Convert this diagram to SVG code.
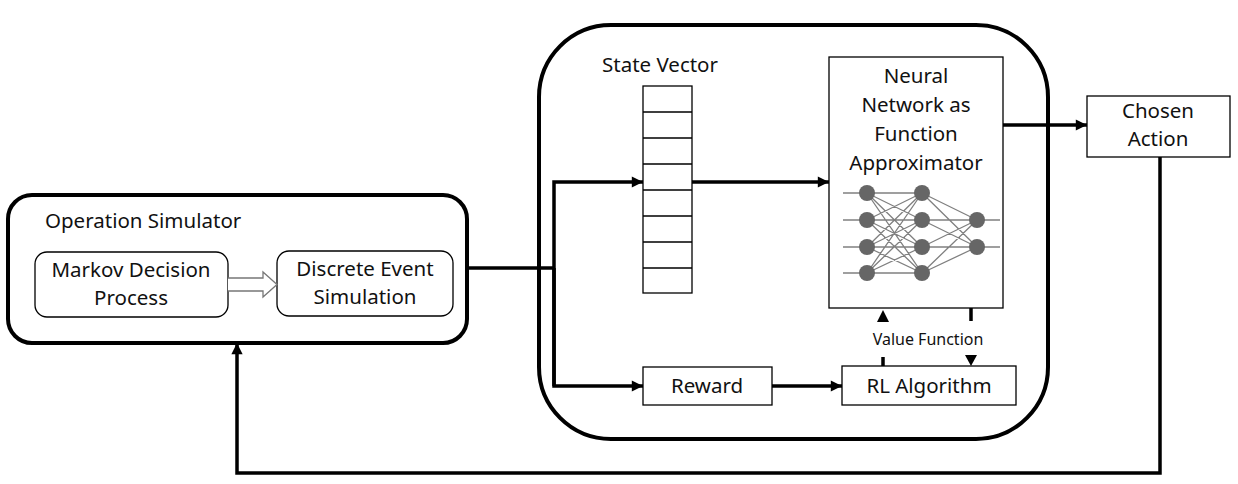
<svg xmlns="http://www.w3.org/2000/svg" width="1238" height="484" viewBox="0 0 1238 484">
<defs>
<marker id="ah" viewBox="0 0 10 10" refX="10" refY="5" markerWidth="4" markerHeight="3.2" markerUnits="strokeWidth" orient="auto"><path d="M0,0 L10,5 L0,10 Z" fill="#000"/></marker>
</defs>
<style>
text{font-family:"Noto Sans","Open Sans",sans-serif;fill:#111;text-anchor:middle;font-size:20.5px}
.big{fill:#fff;stroke:#000;stroke-width:4}
.box{fill:#fff;stroke:#000;stroke-width:1.3}
.conn{fill:none;stroke:#000;stroke-width:3.5}
.nl{stroke:#808080;stroke-width:1.3}
.nd{fill:#666}
</style>
<rect width="1238" height="484" fill="#fff"/>
<g id="rl-agent">
<rect class="big" x="539" y="25" width="509" height="414" rx="72" ry="72"/>
</g>
<g id="operation-simulator">
<rect class="big" x="8" y="195" width="459" height="148" rx="24" ry="24"/>
<text x="45" y="228" style="text-anchor:start;font-size:20.5px">Operation Simulator</text>
</g>
<g id="markov">
<rect class="box" x="35" y="252" width="193" height="65" rx="12" ry="12"/>
<text x="131" y="277">Markov Decision</text>
<text x="131" y="305">Process</text>
</g>
<g id="discrete">
<rect class="box" x="277" y="251" width="176" height="65" rx="12" ry="12"/>
<text x="365" y="276">Discrete Event</text>
<text x="365" y="304">Simulation</text>
</g>
<g id="state-vector">
<text x="660" y="72">State Vector</text>
<rect class="box" x="643" y="86" width="49" height="207"/>
<path class="box" d="M643,112H692M643,138H692M643,164H692M643,190H692M643,216H692M643,242H692M643,268H692"/>
</g>
<g id="neural-network">
<rect class="box" x="829" y="57" width="174" height="251"/>
<text x="916" y="83">Neural</text>
<text x="916" y="112">Network as</text>
<text x="916" y="141">Function</text>
<text x="916" y="170">Approximator</text>
<g>
<path class="nl" d="M843,193H867M843,220H867M843,247H867M843,273H867M977,220H1000M977,247H1000
M867,193L922,193M867,193L922,220M867,193L922,247M867,193L922,273
M867,220L922,193M867,220L922,220M867,220L922,247M867,220L922,273
M867,247L922,193M867,247L922,220M867,247L922,247M867,247L922,273
M867,273L922,193M867,273L922,220M867,273L922,247M867,273L922,273
M922,193L977,220M922,193L977,247M922,220L977,220M922,220L977,247
M922,247L977,220M922,247L977,247M922,273L977,220M922,273L977,247"/>
<circle class="nd" cx="867" cy="193" r="8"/><circle class="nd" cx="867" cy="220" r="8"/><circle class="nd" cx="867" cy="247" r="8"/><circle class="nd" cx="867" cy="273" r="8"/>
<circle class="nd" cx="922" cy="193" r="8"/><circle class="nd" cx="922" cy="220" r="8"/><circle class="nd" cx="922" cy="247" r="8"/><circle class="nd" cx="922" cy="273" r="8"/>
<circle class="nd" cx="977" cy="220" r="8"/><circle class="nd" cx="977" cy="247" r="8"/>
</g>
</g>
<g id="chosen-action">
<rect class="box" x="1087" y="96" width="143" height="61"/>
<text x="1158" y="118">Chosen</text>
<text x="1158" y="146">Action</text>
</g>
<g id="reward">
<rect class="box" x="643" y="367" width="129" height="38"/>
<text x="707" y="393">Reward</text>
</g>
<g id="rl-algorithm">
<rect class="box" x="842" y="366" width="174" height="39"/>
<text x="929" y="393">RL Algorithm</text>
</g>
<g id="connectors">
<path d="M228,278H263V272L277,284.5L263,297V291H228" fill="#fff" stroke="#777" stroke-width="1.3"/>
<path class="conn" d="M467,268H554"/>
<path class="conn" d="M554,386V182H643" marker-end="url(#ah)"/>
<path class="conn" d="M554,268V386H643" marker-end="url(#ah)"/>
<path class="conn" d="M692,182H829" marker-end="url(#ah)"/>
<path class="conn" d="M772,386H842" marker-end="url(#ah)"/>
<path class="conn" d="M1003,125H1087" marker-end="url(#ah)"/>
<path class="conn" d="M1160,157V473H237V343" marker-end="url(#ah)"/>
<path class="conn" d="M883,366V357"/>
<path d="M877,322L883,310L889,322Z" fill="#000"/>
<path class="conn" d="M971,308V321"/>
<path d="M965,355L971,366L977,355Z" fill="#000"/>
<text x="928" y="345" style="font-size:16px">Value Function</text>
</g>
</svg>
